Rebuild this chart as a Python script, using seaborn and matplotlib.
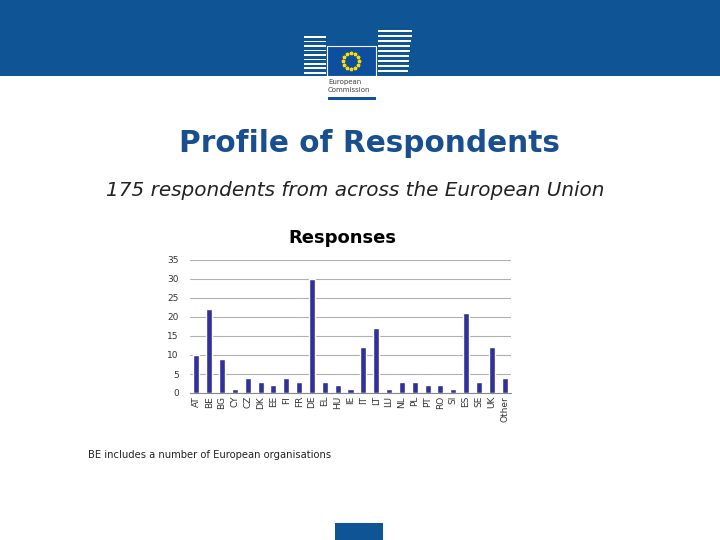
import matplotlib
matplotlib.use("Agg")
import matplotlib.pyplot as plt
import matplotlib.patches as patches
import numpy as np
import pandas as pd
import seaborn as sns

# data
countries = ['AT', 'BE', 'BG', 'CY', 'CZ', 'DK', 'EE', 'FI', 'FR', 'DE', 'EL', 'HU', 'IE',
             'IT', 'LT', 'LU', 'NL', 'PL', 'PT', 'RO', 'SI', 'ES', 'SE', 'UK', 'Other']
responses = [10, 22, 9, 1, 4, 3, 2, 4, 3, 30, 3, 2, 1,
             12, 17, 1, 3, 3, 2, 2, 1, 21, 3, 12, 4]
y_ticks = [0, 5, 10, 15, 20, 25, 30, 35]

df = pd.DataFrame({'country': countries, 'responses': responses})

sns.set_style("white")
plt.rcParams['font.family'] = ['DejaVu Sans']

fig = plt.figure(figsize=(7.2, 5.4), dpi=100)

# header band + logo
W, H = 720, 540
def box(x, y, w, h, color, **kw):
    r = patches.Rectangle((x / W, 1 - (y + h) / H), w / W, h / H,
                          transform=fig.transFigure, color=color, lw=0, **kw)
    fig.patches.append(r)
    return r

box(0, 0, 720, 76, '#0f5494')
box(328, 97, 48, 2.5, '#0f5494')
# building stripes
for i in range(9):
    box(304, 36 + i * 4.5, 22, 1.8, 'white')
    box(378, 30 + i * 5, 34 - i * 0.5, 1.8, 'white')
flag = box(327, 46, 49, 30, '#0d4f9c')
flag.set_edgecolor('white')
flag.set_linewidth(0.8)
ang = np.linspace(0, 2 * np.pi, 12, endpoint=False)
fig.lines.append(plt.Line2D((351 + 8 * np.cos(ang)) / W, 1 - (61 + 8 * np.sin(ang)) / H,
                            transform=fig.transFigure, ls='none', marker='*',
                            ms=2.5, color='#ffdd00'))
fig.text(328 / W, 1 - 82 / H, 'European', fontsize=5, color='#404040', va='center')
fig.text(328 / W, 1 - 90 / H, 'Commission', fontsize=5, color='#404040', va='center')

# titles
fig.text(369 / W, 1 - 144 / H, 'Profile of Respondents', fontsize=21.3, fontweight='bold',
         color='#1a4f8f', ha='center', va='center')
fig.text(106 / W, 1 - 190 / H, '175 respondents from across the European Union',
         fontsize=14.4, style='italic', color='#222222', ha='left', va='center')
fig.text(88 / W, 1 - 455 / H, 'BE includes a number of European organisations',
         fontsize=7.2, color='#222222', ha='left', va='center')

box(335, 523, 48, 17, '#0f5494')

# chart
ax = fig.add_axes([190 / W, 1 - 393 / H, 321 / W, 133 / H])
sns.barplot(data=df, x='country', y='responses', color='#31319a', width=0.47,
            saturation=1, ax=ax)
ax.set_xlim(-0.5, len(countries) - 0.5)
ax.set_ylim(0, 35)
ax.set_yticks(y_ticks)
ax.yaxis.grid(True, color='#b0b0b0', lw=0.8)
ax.set_axisbelow(True)
for s in ['top', 'right', 'left']:
    ax.spines[s].set_visible(False)
ax.spines['bottom'].set_color('#888888')
ax.set_xlabel('')
ax.set_ylabel('')
ax.tick_params(axis='y', labelsize=6.5, colors='#333333', length=0, pad=8)
ax.tick_params(axis='x', labelsize=6.5, colors='#333333', length=0, pad=2, rotation=90)
ax.set_xticks(np.arange(len(countries) + 1) - 0.5, minor=True)
ax.tick_params(axis='x', which='minor', length=3, color='#888888')
ax.set_title('Responses', fontsize=13, fontweight='bold', color='black', pad=12, x=0.475)

fig.savefig('out.png', dpi=100)
